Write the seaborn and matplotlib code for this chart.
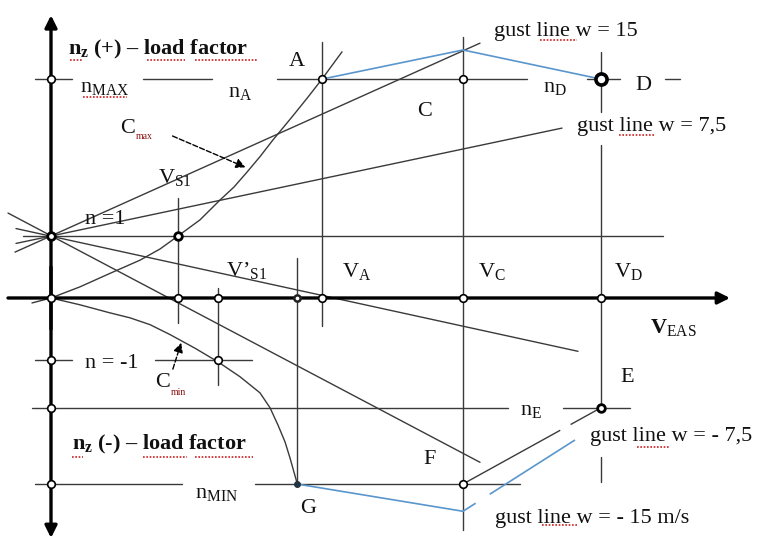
import numpy as np
import pandas as pd
import matplotlib.pyplot as plt
import seaborn as sns

# characteristic speeds (EAS) and load factors
V_S1 = 25.4
V_S1n = 33.4     # V'S1
V_G = 49.2
V_A = 54.2
V_C = 82.4
V_D = 110.0
n_max = 3.53
n_E = -1.77
n_min = -3.0

# C_max / C_min stall boundaries
cmax_V = [-3.8, 0.0, 5.8, 11.6, 17.8, 21.8, 25.4, 29.8, 33.8, 36.6, 39.2, 41.8, 44.4, 48.2, 51.2, 54.2, 58.2]
cmax_n = [-0.08, 0.0, 0.18, 0.39, 0.61, 0.79, 1.0, 1.26, 1.58, 1.79, 2.03, 2.28, 2.55, 2.92, 3.22, 3.53, 3.97]
cmin_V = [0.0, 5.8, 11.8, 15.8, 19.8, 23.8, 28.8, 33.4, 37.8, 41.8, 43.8, 45.4, 46.8, 47.8, 48.6, 49.2]
cmin_n = [0.0, -0.11, -0.24, -0.32, -0.43, -0.59, -0.81, -1.03, -1.27, -1.53, -1.77, -2.05, -2.32, -2.58, -2.81, -2.98]

# gust lines through n = 1
gust_w = ['15', '7,5', '-7,5', '-15']
gust_V0 = [-7.2, -7.0, -7.0, -8.6]
gust_n0 = [0.74, 0.88, 1.12, 1.37]
gust_V1 = [85.8, 102.2, 105.4, 85.8]
gust_n1 = [4.11, 2.74, -0.86, -2.65]

# gust envelope (blue)
env_up_V = [V_A, V_C, V_D]
env_up_n = [n_max, 4.0, n_max]
env_lo_V = [V_G, V_C]
env_lo_n = [n_min, -3.44]
env_lo2_V = [V_C, 104.8]
env_lo2_n = [-3.44, -2.29]

# guide lines: (n, V from, V to) and (V, n from, n to)
h_lines = [(1, -5.6, 122.4),
           (n_max, -3.2, 4.2), (n_max, 18.4, 32.2), (n_max, 45.2, 95.2),
           (n_max, 107.2, 113.8), (n_max, 122.8, 125.8),
           (-1, -3.2, 4.2), (-1, 20.8, 40.2),
           (n_E, -3.8, 91.4), (n_E, 102.4, 115.8),
           (n_min, -3.2, 26.2), (n_min, 40.8, 93.8)]
v_lines = [(V_S1, 1.61, -0.40), (V_S1n, 0.16, -1.40), (V_G, 0.65, n_min),
           (V_A, 4.13, -0.45), (V_C, 4.21, -3.74),
           (V_D, 3.97, 3.0), (V_D, 2.47, n_E), (V_D, -2.56, -2.97)]

open_V = [0, 0, 0, 0, 0, V_S1, V_S1n, V_S1n, V_A, V_A, V_C, V_C, V_C, V_D]
open_n = [n_max, 0, -1, n_E, n_min, 0, 0, -1, 0, n_max, n_max, 0, n_min, 0]
dark_V = [0, V_S1, V_D]
dark_n = [1, 1, n_E]

LINE = '#3a3a3a'
BLUE = '#5a96cc'

sns.set_theme(style='white')
plt.rcParams['font.family'] = ['Liberation Serif', 'DejaVu Serif']
plt.rcParams['mathtext.fontset'] = 'custom'
plt.rcParams['mathtext.rm'] = 'Liberation Serif'
plt.rcParams['mathtext.bf'] = 'Liberation Serif:bold'
plt.rcParams['mathtext.it'] = 'Liberation Serif:italic'

fig = plt.figure(figsize=(7.57, 5.39), dpi=100)
ax = fig.add_axes([0, 0, 1, 1])
ax.set_xlim(-10.2, 141.2)
ax.set_ylim(-3.887, 4.806)
ax.axis('off')

rows = []
for i, (n, v0, v1) in enumerate(h_lines):
    rows += [('h%d' % i, v0, n), ('h%d' % i, v1, n)]
for i, (v, n0, n1) in enumerate(v_lines):
    rows += [('v%d' % i, v, n0), ('v%d' % i, v, n1)]
for w, a, b, c, d in zip(gust_w, gust_V0, gust_n0, gust_V1, gust_n1):
    rows += [('g' + w, a, b), ('g' + w, c, d)]
guides = pd.DataFrame(rows, columns=['seg', 'V', 'n'])
sns.lineplot(data=guides, x='V', y='n', units='seg', estimator=None, sort=False,
             color=LINE, lw=1, ax=ax, legend=False)

sns.lineplot(x=cmax_V, y=cmax_n, sort=False, estimator=None, color=LINE, lw=1, ax=ax)
sns.lineplot(x=cmin_V, y=cmin_n, sort=False, estimator=None, color=LINE, lw=1, ax=ax)

# F -> E line (small break near E)
ax.plot([V_C, V_D], [n_min, n_E], color=LINE, lw=1, ls=(0, (80, 8.5, 30, 1)))

sns.lineplot(x=env_up_V, y=env_up_n, sort=False, estimator=None, color=BLUE, lw=1.2, ax=ax)
sns.lineplot(x=env_lo_V, y=env_lo_n, sort=False, estimator=None, color=BLUE, lw=1.2, ax=ax)
ax.plot(env_lo2_V, env_lo2_n, color=BLUE, lw=1.2, ls=(0, (9, 10, 200, 1)))

# axes with arrows
arrow = dict(arrowstyle='-|>', lw=2.4, color='black', mutation_scale=18, shrinkA=0, shrinkB=0)
ax.annotate('', xy=(135.8, 0), xytext=(-8.6, 0), arrowprops=arrow)
ax.annotate('', xy=(0, 4.56), xytext=(0, -0.5), arrowprops=arrow)
ax.annotate('', xy=(0, -3.87), xytext=(0, 0.5), arrowprops=arrow)

sns.scatterplot(x=open_V, y=open_n, s=30, color='white', edgecolor='black',
                linewidth=1.2, zorder=5, ax=ax)
sns.scatterplot(x=dark_V, y=dark_n, s=30, color='white', edgecolor='black',
                linewidth=2.0, zorder=5, ax=ax)
ax.plot([V_G], [0], 'o', ms=4.5, mfc='white', mec='#222222', mew=1.8, zorder=6)
ax.plot([V_D], [n_max], 'o', ms=8, mfc='white', mec='black', mew=2.6, zorder=6)
ax.plot([V_G], [n_min], 'o', ms=4, color='#223344', zorder=6)

# C_max / C_min pointers
ax.annotate('', xy=(39.4, 2.09), xytext=(23.8, 2.63),
            arrowprops=dict(arrowstyle='-|>', ls='--', lw=1, color='black', mutation_scale=14))
ax.annotate('', xy=(26.2, -0.68), xytext=(24.2, -1.19),
            arrowprops=dict(arrowstyle='-|>', ls='--', lw=1, color='black', mutation_scale=14))

fs = 16
T = dict(fontsize=fs, color='#111111', va='center')
ax.text(3.4, 4.0, r'$\mathbf{n_z}$ (+) – load factor', fontweight='bold', **T)
ax.text(4.2, -2.37, r'$\mathbf{n_z}$ (-) – load factor', fontweight='bold', **T)
ax.text(49.2, 3.81, 'A', ha='center', **T)
ax.text(35.4, 3.32, r'n$_{\mathrm{A}}$', **T)
ax.text(5.8, 3.39, r'n$_{\mathrm{MAX}}$', **T)
ax.text(13.8, 2.74, 'C', **T)
ax.text(17.0, 2.6, 'max', fontsize=7, color='#8a1010', va='center')
ax.text(20.8, -1.37, 'C', **T)
ax.text(24.0, -1.52, 'min', fontsize=7, color='#8a1010', va='center')
ax.text(21.4, 1.94, r'V$_{\mathrm{S1}}$', **T)
ax.text(6.8, 1.26, 'n =1', **T)
ax.text(35.0, 0.45, r'V’$_{\mathrm{S1}}$', **T)
ax.text(58.2, 0.42, r'V$_{\mathrm{A}}$', **T)
ax.text(85.4, 0.42, r'V$_{\mathrm{C}}$', **T)
ax.text(112.6, 0.42, r'V$_{\mathrm{D}}$', **T)
ax.text(74.8, 3.0, 'C', ha='center', **T)
ax.text(98.4, 3.39, r'n$_{\mathrm{D}}$', **T)
ax.text(118.4, 3.42, 'D', ha='center', **T)
ax.text(88.6, 4.29, 'gust line w = 15', **T)
ax.text(105.2, 2.76, 'gust line w = 7,5', **T)
ax.text(119.8, -0.48, r'$\mathbf{V}_{\mathrm{EAS}}$', **T)
ax.text(6.8, -1.05, 'n = -1', **T)
ax.text(115.2, -1.29, 'E', ha='center', **T)
ax.text(93.8, -1.81, r'n$_{\mathrm{E}}$', **T)
ax.text(75.8, -2.61, 'F', ha='center', **T)
ax.text(107.8, -2.24, 'gust line w = - 7,5', **T)
ax.text(28.8, -3.16, r'n$_{\mathrm{MIN}}$', **T)
ax.text(51.4, -3.40, 'G', ha='center', **T)
ax.text(88.8, -3.55, 'gust line w = - 15 m/s', **T)

# spell-check squiggles under some words
squiggles = [(3.8, 6.2, 3.84), (19.2, 26.8, 3.84), (28.8, 41.4, 3.84), (6.4, 15.2, 3.24),
             (97.8, 105.2, 4.16), (113.6, 120.6, 2.63), (117.2, 123.8, -2.40), (98.2, 105.2, -3.66),
             (4.2, 6.4, -2.56), (18.4, 27.2, -2.56), (28.8, 40.4, -2.56)]
for a, b, y in squiggles:
    ax.plot([a, b], [y, y], color='#cc2020', lw=1.2, ls=(0, (1, 1)))

fig.savefig('out.png', dpi=100)
